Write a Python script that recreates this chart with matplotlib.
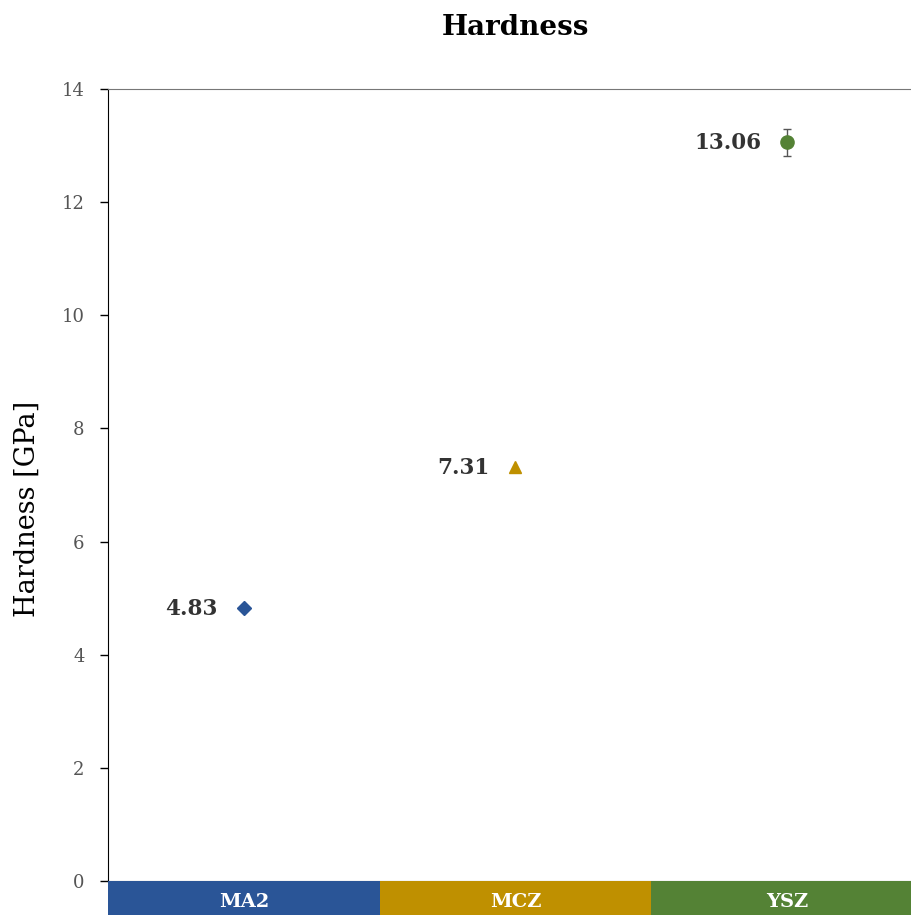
import matplotlib
matplotlib.use("Agg")
import matplotlib.pyplot as plt
from matplotlib.patches import Rectangle

# Data
categories = ["MA2", "MCZ", "YSZ"]
hardness = [4.83, 7.31, 13.06]
hardness_err = [0.0, 0.0, 0.24]
markers = ["D", "^", "o"]
marker_sizes = [7, 9, 9.5]
colors = ["#2A5597", "#BF9000", "#548235"]
yticks = [0, 2, 4, 6, 8, 10, 12, 14]

plt.rcParams["font.family"] = ["DejaVu Serif"]

W, H = 912, 915
fig = plt.figure(figsize=(W / 100, H / 100), dpi=100)

# main axes (extends slightly past the right edge)
left = 108 / W
width = 815 / W
bottom = 34 / H
height = 792 / H
ax = fig.add_axes([left, bottom, width, height])

n = len(categories)
for i, (cat, val, err, mk, ms, col) in enumerate(
        zip(categories, hardness, hardness_err, markers, marker_sizes, colors)):
    x = i + 0.5
    ax.errorbar(x, val, yerr=err if err > 0 else None, fmt=mk, color=col,
                markersize=ms, ecolor="#555555", elinewidth=1, capsize=3,
                capthick=1, zorder=3)
    ax.annotate(f"{val:.2f}", (x, val), xytext=(-26, -1),
                textcoords="offset pixels", ha="right", va="center",
                fontsize=15.5, fontweight="bold", color="#333333")

ax.set_xlim(0, n)
ax.set_ylim(0, 14)
ax.set_yticks(yticks)
ax.set_xticks([])
ax.tick_params(axis="y", direction="out", length=6, width=1, colors="black",
               labelcolor="#555555", labelsize=13, pad=11)
ax.spines["right"].set_visible(False)
ax.spines["bottom"].set_color("#444444")
ax.spines["top"].set_color("#777777")
ax.spines["left"].set_color("black")
ax.set_ylabel("Hardness [GPa]", fontsize=19.5, color="black")
ax.yaxis.set_label_coords(-0.083, 0.47)
ax.set_title("Hardness", fontsize=20, fontweight="bold", pad=39)

# category band strip below the axis
bax = fig.add_axes([left, 0, width, bottom])
for i, (cat, col) in enumerate(zip(categories, colors)):
    bax.add_patch(Rectangle((i, 0), 1, 1, facecolor=col, edgecolor="none"))
    bax.text(i + 0.5, 0.38, cat, ha="center", va="center", color="white",
             fontsize=14, fontweight="bold")
bax.set_xlim(0, n)
bax.set_ylim(0, 1)
bax.axis("off")

fig.savefig("out.png", dpi=100)
